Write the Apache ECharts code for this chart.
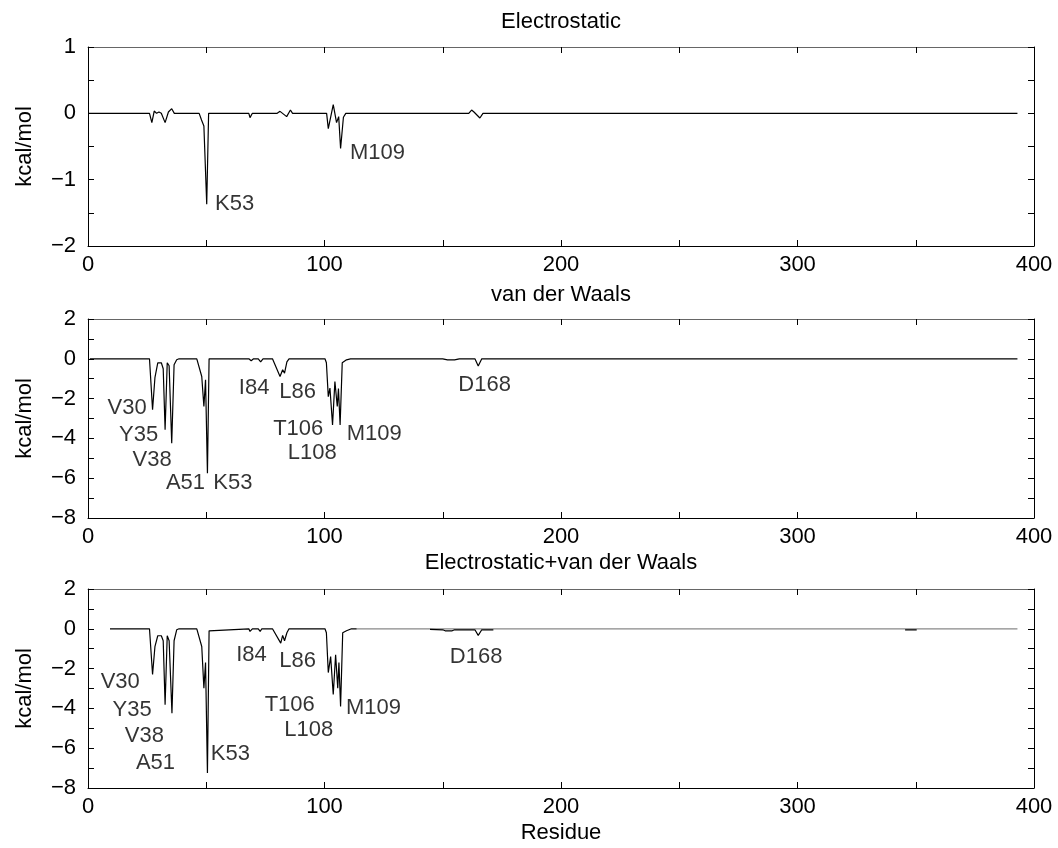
<!DOCTYPE html>
<html><head><meta charset="utf-8">
<script src="https://cdn.jsdelivr.net/npm/echarts@6/dist/echarts.min.js"></script>
<style>html,body{margin:0;padding:0;background:#fff}#c{width:1058px;height:848px}</style>
</head><body><div id="c"></div>
<script>
// ---- data (residue index, kcal/mol) ----
const titles = ['Electrostatic', 'van der Waals', 'Electrostatic+van der Waals'];
const xTicks = [0, 100, 200, 300, 400];
const yRanges = [[-2, 1], [-8, 2], [-8, 2]];

const elecRes = [0, 26, 27, 28, 29, 30, 31, 32.6, 34, 35.4, 36.5, 47, 48, 49, 50.2, 51, 68, 68.5, 69.5, 80, 81.2, 82, 84, 85.6, 86.5, 100.9, 101.6, 103.7, 105.1, 106, 106.8, 108, 109, 151, 151.7, 152.5, 161, 162.2, 163.2, 164, 165.7, 167, 393];
const elecVal = [0, 0, -0.14, 0.035, 0, 0.02, 0, -0.14, 0.02, 0.07, 0, 0, -0.1, -0.19, -1.37, 0, 0, -0.065, 0, 0, 0.03, 0.02, -0.05, 0.05, 0, 0, -0.23, 0.13, -0.14, -0.05, -0.53, -0.06, 0, 0, -0.02, 0, 0, 0.05, 0.02, 0.04, -0.07, 0, 0];

const vdwRes = [0.8, 26, 26.5, 27.3, 28.3, 29.5, 31, 31.8, 32.6, 33.5, 34.3, 35.4, 36.4, 37.5, 38.5, 46, 46.8, 48.1, 49, 49.7, 50.5, 51.2, 68, 69, 70, 72, 73, 74, 78, 81.2, 82.3, 83.1, 84.1, 85, 100.2, 100.8, 101.6, 102.3, 103.4, 104.4, 105.4, 105.9, 106.6, 107.5, 109.3, 111, 150, 152, 155, 157, 163.6, 165, 166.5, 393];
const vdwVal = [0, 0, -0.1, -2.56, -0.95, -0.2, -0.2, -0.5, -3.57, -0.2, -0.35, -4.24, -0.3, -0.05, 0, 0, -0.1, -0.89, -2.4, -1.05, -5.75, 0, 0, -0.1, 0, 0, -0.15, 0, 0, -0.89, -0.55, -0.72, -0.15, 0, 0, -0.2, -1.9, -1.47, -3.32, -1.14, -2.4, -1.5, -3.32, -0.2, -0.05, 0, 0, -0.05, -0.05, 0, 0, -0.36, 0, 0];

const sumResA = [9.3, 26, 26.5, 27.3, 28.3, 29.5, 31, 31.8, 32.6, 33.5, 34.3, 35.5, 36.4, 37.5, 38.5, 46, 46.8, 48.1, 49, 49.7, 50.5, 51.2, 52, 68, 68.5, 69.5, 72, 72.8, 73.5, 78, 81.5, 82.3, 83.1, 84.1, 85, 100.2, 100.8, 101.6, 102.6, 103.7, 104.7, 105.6, 106.1, 106.8, 107.7, 109.3, 111.4, 113.6];
const sumValA = [0, 0, -0.1, -2.3, -0.9, -0.35, -0.35, -0.6, -3.82, -0.35, -0.6, -4.24, -0.6, -0.05, 0, 0, -0.1, -0.89, -2.98, -1.7, -7.25, -0.1, 0, 0, -0.13, 0, 0, -0.13, 0, 0, -0.72, -0.33, -0.6, -0.2, 0, 0, -0.2, -2.2, -1.4, -3.3, -1.3, -2.98, -1.7, -3.9, -0.2, -0.1, 0, 0];
const sumResB = [144.6, 150, 151, 154, 155, 163.6, 165, 166.5, 171.4];
const sumValB = [-0.03, -0.05, -0.1, -0.1, -0.05, -0.05, -0.33, -0.05, -0.05];
const sumResC = [345.5, 350.4];
const sumValC = [-0.05, -0.05];
const sumBaseRes = [113.6, 393];
const sumBaseVal = [0, 0];

// annotation labels: [text, residue, value, side]
const elecLabels = [['K53', 53.7, -1.37, 'L'], ['M109', 110.8, -0.59, 'L']];
const vdwLabels = [['V30', 24.8, -2.49, 'R'], ['Y35', 29.7, -3.83, 'R'], ['V38', 35.4, -5.09, 'R'], ['A51', 49.5, -6.22, 'R'], ['K53', 53, -6.22, 'L'], ['I84', 76.7, -1.48, 'R'], ['L86', 80.9, -1.65, 'L'], ['T106', 99.5, -3.54, 'R'], ['L108', 105.2, -4.75, 'R'], ['M109', 109.4, -3.78, 'L'], ['D168', 156.6, -1.32, 'L']];
const sumLabels = [['V30', 21.9, -2.65, 'R'], ['Y35', 26.9, -4.07, 'R'], ['V38', 32.1, -5.38, 'R'], ['A51', 36.8, -6.75, 'R'], ['K53', 51.9, -6.28, 'L'], ['I84', 75.6, -1.31, 'R'], ['L86', 80.9, -1.64, 'L'], ['T106', 95.9, -3.82, 'R'], ['L108', 103.7, -5.08, 'R'], ['M109', 109.1, -3.98, 'L'], ['D168', 153, -1.39, 'L']];

// ---- chart ----
const FONT = 'Liberation Sans, Arial, Helvetica, sans-serif';
const FS = 22;
const zip = (a, b) => a.map((x, i) => [x, b[i]]);
const minus = s => String(s).replace('-', '\u2212');
const gridTops = [47, 319, 589];
const GH = 199;

const grids = gridTops.map(t => ({left: 88, right: 24, top: t, height: GH}));
const xAxes = [], yAxes = [];
gridTops.forEach((t, i) => {
  const common = {type: 'value', gridIndex: i, min: 0, max: 400, interval: 50,
    splitLine: {show: false},
    axisTick: {inside: true, length: 6, lineStyle: {color: '#000'}},
    axisLine: {onZero: false, lineStyle: {color: '#000', width: 1}}};
  xAxes.push(Object.assign({}, common, {position: 'bottom',
    axisLabel: {fontFamily: FONT, fontSize: FS, color: '#000', margin: 8,
      formatter: v => (xTicks.indexOf(v) >= 0 ? String(v) : '')},
    name: i === 2 ? 'Residue' : '', nameLocation: 'middle', nameGap: 34,
    nameTextStyle: {fontFamily: FONT, fontSize: FS, color: '#000'}}));
  xAxes.push(Object.assign({}, common, {position: 'top', axisLabel: {show: false},
    axisLine: {onZero: false, lineStyle: {color: '#666', width: 1}}}));
  const [mn, mx] = yRanges[i];
  const step = i === 0 ? 0.5 : 1;
  const labStep = i === 0 ? 1 : 2;
  const ycommon = {type: 'value', gridIndex: i, min: mn, max: mx, interval: step,
    splitLine: {show: false},
    axisTick: {inside: true, length: 6, lineStyle: {color: '#000'}},
    axisLine: {onZero: false, lineStyle: {color: '#000', width: 1}}};
  yAxes.push(Object.assign({}, ycommon, {position: 'left',
    axisLabel: {fontFamily: FONT, fontSize: FS, color: '#000', margin: 12,
      formatter: v => (Math.abs(v / labStep - Math.round(v / labStep)) < 1e-6 ? minus(v) : '')},
    name: 'kcal/mol', nameLocation: 'middle', nameGap: 52, nameRotate: 90,
    nameTextStyle: {fontFamily: FONT, fontSize: FS, color: '#000'}}));
  yAxes.push(Object.assign({}, ycommon, {position: 'right', axisLabel: {show: false}}));
});

function lineSeries(i, res, val, color) {
  return {type: 'line', xAxisIndex: 2 * i, yAxisIndex: 2 * i, data: zip(res, val),
    symbol: 'none', showSymbol: false, silent: true, animation: false,
    lineStyle: {color: color || '#000', width: 1.2}, z: 3};
}
function labelSeries(i, labels) {
  return {type: 'scatter', xAxisIndex: 2 * i, yAxisIndex: 2 * i, symbolSize: 0.01,
    silent: true, animation: false, z: 5,
    data: labels.map(l => ({value: [l[1], l[2]], name: l[0],
      label: {show: true, formatter: l[0], position: [0, 0],
        align: l[3] === 'L' ? 'left' : 'right', verticalAlign: 'middle',
        fontFamily: FONT, fontSize: FS, color: '#000'}}))};
}

const series = [
  lineSeries(0, elecRes, elecVal),
  lineSeries(1, vdwRes, vdwVal),
  lineSeries(2, sumBaseRes, sumBaseVal, '#888'),
  lineSeries(2, sumResA, sumValA),
  lineSeries(2, sumResB, sumValB),
  lineSeries(2, sumResC, sumValC),
  labelSeries(0, elecLabels),
  labelSeries(1, vdwLabels),
  labelSeries(2, sumLabels)
];

const titleY = [22, 295, 563];
const graphic = titles.map((t, i) => ({type: 'text', x: 561, y: titleY[i],
  style: {text: t, font: FS + 'px ' + FONT, fill: '#000', textAlign: 'center', textVerticalAlign: 'middle'}}));

const chart = echarts.init(document.getElementById('c'), null, {renderer: 'canvas'});
chart.setOption({animation: false, backgroundColor: '#fff', grid: grids, xAxis: xAxes, yAxis: yAxes, series, graphic});
</script></body></html>
